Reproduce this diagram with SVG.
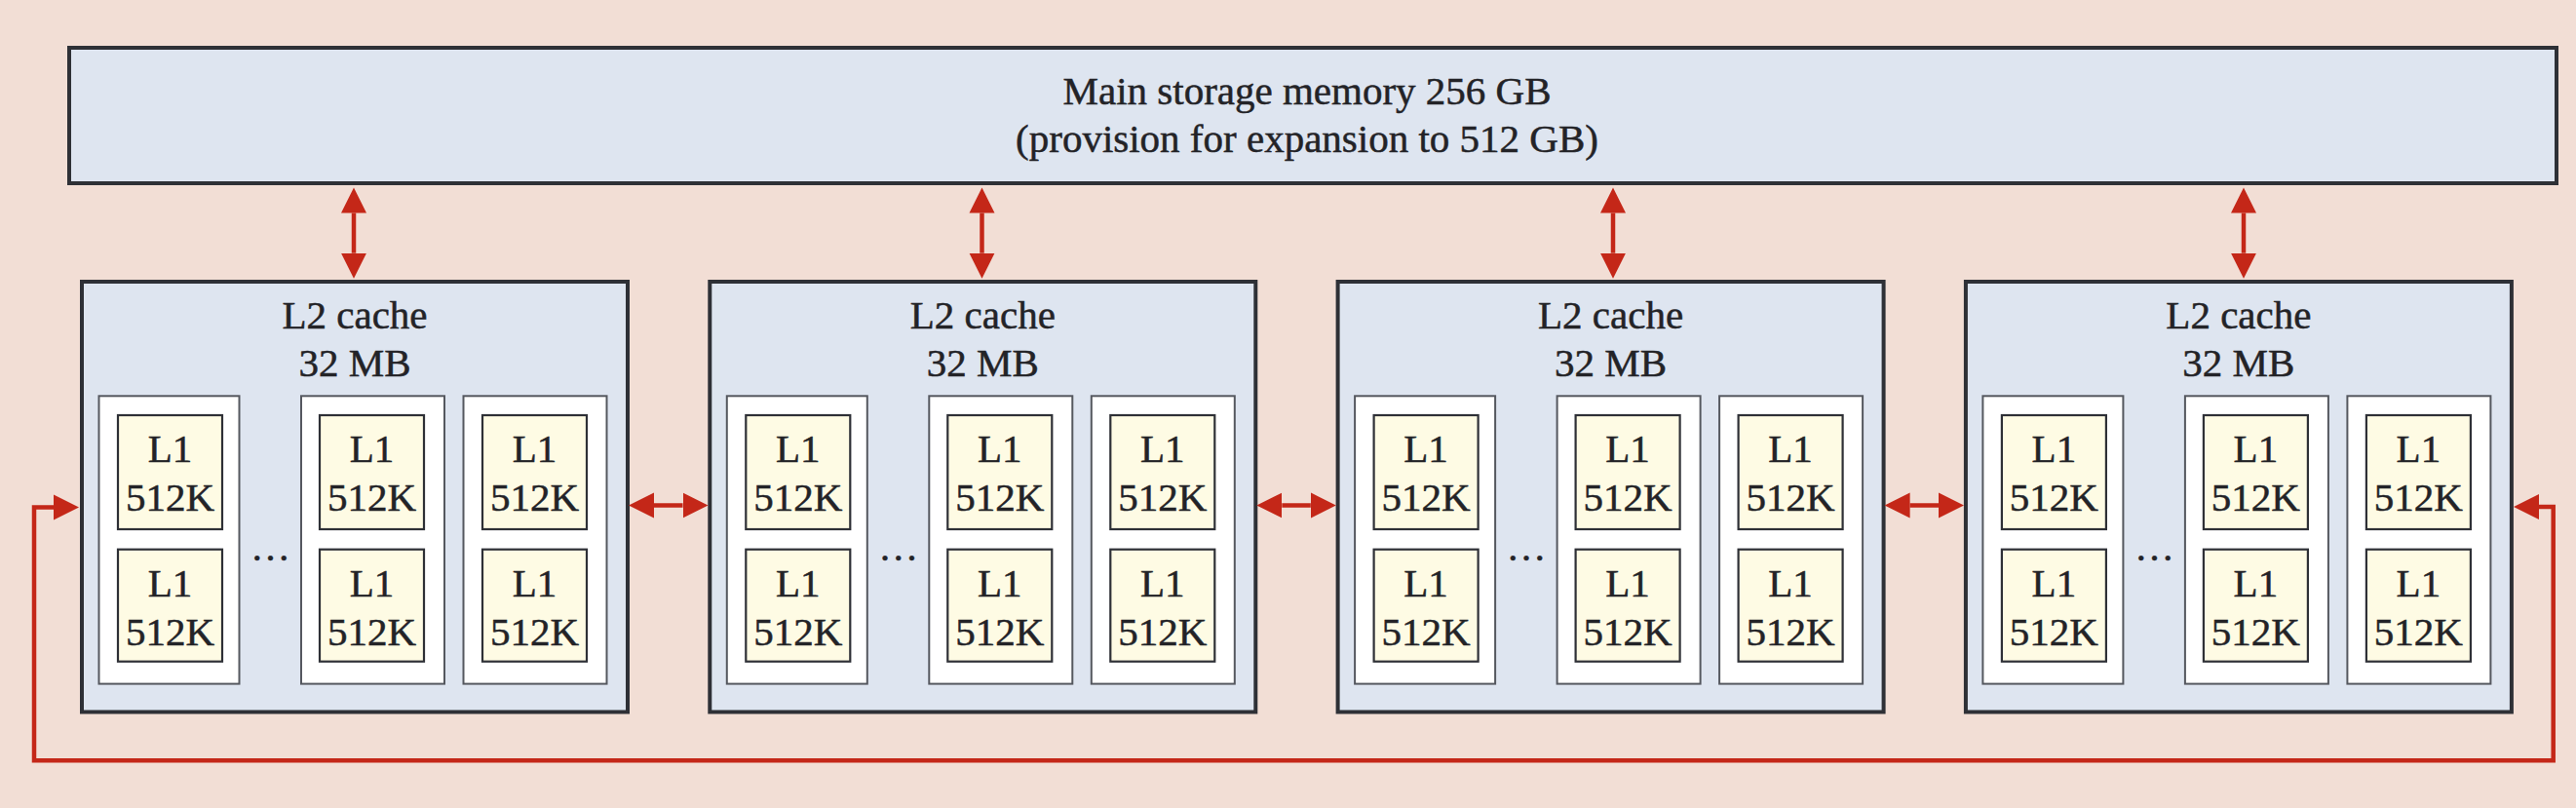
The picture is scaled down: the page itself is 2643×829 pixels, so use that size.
<svg xmlns="http://www.w3.org/2000/svg" width="2643" height="829" viewBox="0 0 2643 829">
<style>
  .bg { fill: #F2DED5; }
  .main { fill: #DEE5F0; stroke: #2E3036; stroke-width: 4; }
  .l2 { fill: #DEE5F0; stroke: #2E3036; stroke-width: 4; }
  .core { fill: #FFFFFF; stroke: #55585F; stroke-width: 2; }
  .l1 { fill: #FEFBE4; stroke: #2E3036; stroke-width: 2.2; }
  .t { font-family: "Liberation Serif", "Times New Roman", serif; font-size: 41px; fill: #232327; stroke: #232327; stroke-width: 0.5; text-anchor: middle; }
  .wire { fill: none; stroke: #C42718; stroke-width: 4.5; marker-start: url(#ah); marker-end: url(#ah); }
</style>
<defs>
  <marker id="ah" markerUnits="userSpaceOnUse" markerWidth="27" markerHeight="27" refX="0" refY="13" orient="auto-start-reverse" viewBox="0 0 27 26">
    <path d="M0,0 L26,13 L0,26 z" fill="#C42718"/>
  </marker>
</defs>
<rect class="bg" x="0" y="0" width="2643" height="829"/>

<g id="main-memory">
  <rect class="main" x="71" y="49" width="2552" height="139"/>
  <text class="t" x="1341" y="106.5">Main storage memory 256 GB</text>
  <text class="t" x="1341" y="156">(provision for expansion to 512 GB)</text>
</g>

<g id="l2-1" transform="translate(84,0)">
  <rect class="l2" x="0" y="289" width="560" height="441.5"/>
  <text class="t" x="280" y="336.5">L2 cache</text>
  <text class="t" x="280" y="386">32 MB</text>
  <rect class="core" x="17.5" y="406.3" width="144" height="295.3"/>
  <rect class="core" x="225" y="406.3" width="147" height="295.3"/>
  <rect class="core" x="391.5" y="406.3" width="147" height="295.3"/>
  <rect class="l1" x="37" y="426" width="107" height="117"/>
  <rect class="l1" x="37" y="563.7" width="107" height="115"/>
  <rect class="l1" x="244" y="426" width="107" height="117"/>
  <rect class="l1" x="244" y="563.7" width="107" height="115"/>
  <rect class="l1" x="411" y="426" width="107" height="117"/>
  <rect class="l1" x="411" y="563.7" width="107" height="115"/>
  <text class="t" x="90.5" y="474">L1</text><text class="t" x="90.5" y="523.5">512K</text>
  <text class="t" x="90.5" y="612">L1</text><text class="t" x="90.5" y="661.5">512K</text>
  <text class="t" x="297.5" y="474">L1</text><text class="t" x="297.5" y="523.5">512K</text>
  <text class="t" x="297.5" y="612">L1</text><text class="t" x="297.5" y="661.5">512K</text>
  <text class="t" x="464.5" y="474">L1</text><text class="t" x="464.5" y="523.5">512K</text>
  <text class="t" x="464.5" y="612">L1</text><text class="t" x="464.5" y="661.5">512K</text>
  <text class="t" x="193.5" y="575">…</text>
</g>

<g id="l2-2" transform="translate(728.3,0)">
  <rect class="l2" x="0" y="289" width="560" height="441.5"/>
  <text class="t" x="280" y="336.5">L2 cache</text>
  <text class="t" x="280" y="386">32 MB</text>
  <rect class="core" x="17.5" y="406.3" width="144" height="295.3"/>
  <rect class="core" x="225" y="406.3" width="147" height="295.3"/>
  <rect class="core" x="391.5" y="406.3" width="147" height="295.3"/>
  <rect class="l1" x="37" y="426" width="107" height="117"/>
  <rect class="l1" x="37" y="563.7" width="107" height="115"/>
  <rect class="l1" x="244" y="426" width="107" height="117"/>
  <rect class="l1" x="244" y="563.7" width="107" height="115"/>
  <rect class="l1" x="411" y="426" width="107" height="117"/>
  <rect class="l1" x="411" y="563.7" width="107" height="115"/>
  <text class="t" x="90.5" y="474">L1</text><text class="t" x="90.5" y="523.5">512K</text>
  <text class="t" x="90.5" y="612">L1</text><text class="t" x="90.5" y="661.5">512K</text>
  <text class="t" x="297.5" y="474">L1</text><text class="t" x="297.5" y="523.5">512K</text>
  <text class="t" x="297.5" y="612">L1</text><text class="t" x="297.5" y="661.5">512K</text>
  <text class="t" x="464.5" y="474">L1</text><text class="t" x="464.5" y="523.5">512K</text>
  <text class="t" x="464.5" y="612">L1</text><text class="t" x="464.5" y="661.5">512K</text>
  <text class="t" x="193.5" y="575">…</text>
</g>

<g id="l2-3" transform="translate(1372.6,0)">
  <rect class="l2" x="0" y="289" width="560" height="441.5"/>
  <text class="t" x="280" y="336.5">L2 cache</text>
  <text class="t" x="280" y="386">32 MB</text>
  <rect class="core" x="17.5" y="406.3" width="144" height="295.3"/>
  <rect class="core" x="225" y="406.3" width="147" height="295.3"/>
  <rect class="core" x="391.5" y="406.3" width="147" height="295.3"/>
  <rect class="l1" x="37" y="426" width="107" height="117"/>
  <rect class="l1" x="37" y="563.7" width="107" height="115"/>
  <rect class="l1" x="244" y="426" width="107" height="117"/>
  <rect class="l1" x="244" y="563.7" width="107" height="115"/>
  <rect class="l1" x="411" y="426" width="107" height="117"/>
  <rect class="l1" x="411" y="563.7" width="107" height="115"/>
  <text class="t" x="90.5" y="474">L1</text><text class="t" x="90.5" y="523.5">512K</text>
  <text class="t" x="90.5" y="612">L1</text><text class="t" x="90.5" y="661.5">512K</text>
  <text class="t" x="297.5" y="474">L1</text><text class="t" x="297.5" y="523.5">512K</text>
  <text class="t" x="297.5" y="612">L1</text><text class="t" x="297.5" y="661.5">512K</text>
  <text class="t" x="464.5" y="474">L1</text><text class="t" x="464.5" y="523.5">512K</text>
  <text class="t" x="464.5" y="612">L1</text><text class="t" x="464.5" y="661.5">512K</text>
  <text class="t" x="193.5" y="575">…</text>
</g>

<g id="l2-4" transform="translate(2016.9,0)">
  <rect class="l2" x="0" y="289" width="560" height="441.5"/>
  <text class="t" x="280" y="336.5">L2 cache</text>
  <text class="t" x="280" y="386">32 MB</text>
  <rect class="core" x="17.5" y="406.3" width="144" height="295.3"/>
  <rect class="core" x="225" y="406.3" width="147" height="295.3"/>
  <rect class="core" x="391.5" y="406.3" width="147" height="295.3"/>
  <rect class="l1" x="37" y="426" width="107" height="117"/>
  <rect class="l1" x="37" y="563.7" width="107" height="115"/>
  <rect class="l1" x="244" y="426" width="107" height="117"/>
  <rect class="l1" x="244" y="563.7" width="107" height="115"/>
  <rect class="l1" x="411" y="426" width="107" height="117"/>
  <rect class="l1" x="411" y="563.7" width="107" height="115"/>
  <text class="t" x="90.5" y="474">L1</text><text class="t" x="90.5" y="523.5">512K</text>
  <text class="t" x="90.5" y="612">L1</text><text class="t" x="90.5" y="661.5">512K</text>
  <text class="t" x="297.5" y="474">L1</text><text class="t" x="297.5" y="523.5">512K</text>
  <text class="t" x="297.5" y="612">L1</text><text class="t" x="297.5" y="661.5">512K</text>
  <text class="t" x="464.5" y="474">L1</text><text class="t" x="464.5" y="523.5">512K</text>
  <text class="t" x="464.5" y="612">L1</text><text class="t" x="464.5" y="661.5">512K</text>
  <text class="t" x="193.5" y="575">…</text>
</g>

<g id="connectors">
  <path class="wire" d="M363,218.5 V259.7"/>
  <path class="wire" d="M1007.5,218.5 V259.7"/>
  <path class="wire" d="M1655,218.5 V259.7"/>
  <path class="wire" d="M2302,218.5 V259.7"/>
  <path class="wire" d="M671,518.5 H700.5"/>
  <path class="wire" d="M1315.3,518.5 H1344.8"/>
  <path class="wire" d="M1959.6,518.5 H1989"/>
  <path class="wire" d="M55,520.5 H35 V780.3 H2619.7 V520 H2605"/>
</g>
</svg>
